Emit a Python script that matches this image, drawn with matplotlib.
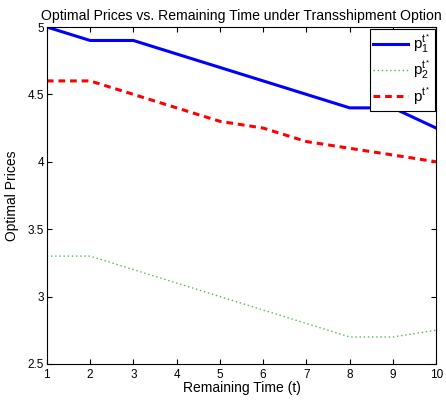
import matplotlib.pyplot as plt

plt.rcParams['font.family'] = ['Liberation Sans', 'DejaVu Sans']
plt.rcParams['mathtext.fontset'] = 'custom'
plt.rcParams['mathtext.rm'] = 'Liberation Sans'
plt.rcParams['mathtext.it'] = 'Liberation Sans'

# remaining time and optimal prices
t = [1, 2, 3, 4, 5, 6, 7, 8, 9, 10]
p1 = [5.0, 4.9, 4.9, 4.8, 4.7, 4.6, 4.5, 4.4, 4.4, 4.25]
p2 = [3.3, 3.3, 3.2, 3.1, 3.0, 2.9, 2.8, 2.7, 2.7, 2.75]
p_star = [4.6, 4.6, 4.5, 4.4, 4.3, 4.25, 4.15, 4.1, 4.05, 4.0]

fig = plt.figure(figsize=(4.46, 4.03), dpi=100)
ax = fig.add_axes([0.105, 0.097, 0.873, 0.836])

ax.plot(t, p1, color='#0000ff', lw=2.2, label=r'$\mathrm{p}_1^{\mathrm{t}^*}$')
ax.plot(t, p2, color='#55b855', lw=1.0, ls=(0, (1, 2)), label=r'$\mathrm{p}_2^{\mathrm{t}^*}$')
ax.plot(t, p_star, color='#ff0000', lw=2.2, ls=(0, (2.2, 1.6)), label=r'$\mathrm{p}^{\mathrm{t}^*}$')

ax.set_xlim(1, 10)
ax.set_ylim(2.5, 5)
ax.set_xticks(t)
ax.set_yticks([2.5, 3, 3.5, 4, 4.5, 5])
ax.set_yticklabels(['2.5', '3', '3.5', '4', '4.5', '5'])
ax.tick_params(direction='in', top=True, right=True, labelsize=8.5, length=3.5)
ax.tick_params(axis='x', pad=4)
ax.tick_params(axis='y', pad=2)
for s in ax.spines.values():
    s.set_linewidth(0.8)

ax.set_title('Optimal Prices vs. Remaining Time under Transshipment Option', fontsize=10.1, pad=5)
ax.set_xlabel('Remaining Time (t)', fontsize=10, labelpad=0)
ax.set_ylabel('Optimal Prices', fontsize=10, labelpad=6)

leg = ax.legend(loc='upper right', fontsize=11, fancybox=False, framealpha=1,
                edgecolor='black', borderaxespad=0.1, handlelength=2.3,
                borderpad=0.25, labelspacing=0.25, handletextpad=0.3)
leg.get_frame().set_linewidth(0.8)

plt.savefig('out.png')
